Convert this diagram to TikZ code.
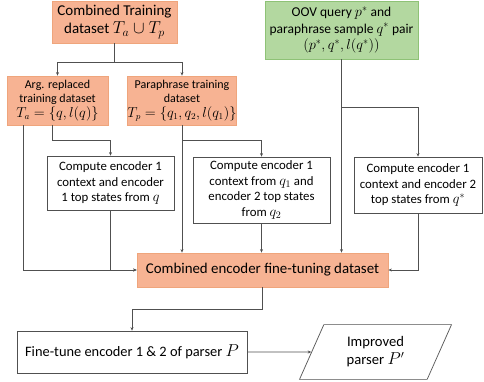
\documentclass[tikz,border=0pt]{standalone}
\usepackage{fontspec}
\setmainfont{Carlito}
\usetikzlibrary{arrows.meta,shapes.geometric}
\definecolor{orfill}{HTML}{F7B393}
\definecolor{ordraw}{HTML}{EFA57C}
\definecolor{grfill}{HTML}{B3D8A0}
\definecolor{grdraw}{HTML}{8EC276}
\definecolor{lncol}{HTML}{505050}
% formula set a little larger than the surrounding text
\newcommand{\bm}[2]{{\fontsize{#1}{10}\selectfont$#2$}}
\begin{document}
\begin{tikzpicture}[x=1pt,y=-1pt,
  orbox/.style={draw=ordraw,fill=orfill,line width=0.8pt,inner sep=0pt,align=center},
  grbox/.style={draw=grdraw,fill=grfill,line width=0.8pt,inner sep=0pt,align=center},
  whbox/.style={draw=lncol,fill=white,line width=0.7pt,inner sep=0pt,align=center},
  conn/.style={draw=lncol,line width=0.7pt},
  arr/.style={conn,-{Stealth[length=3.5pt,width=3pt]}}]
\useasboundingbox (0,0) rectangle (484,381);
% source datasets
\node[orbox,minimum width=125pt,minimum height=42pt,font=\fontsize{15}{17.5}\selectfont] (comb) at (114.5,22) {Combined Training\\dataset \bm{17}{T_a\cup T_p}};
\node[orbox,minimum width=101pt,minimum height=49pt,font=\fontsize{12}{14.5}\selectfont] (arg) at (57.5,100.5) {Arg. replaced\\training dataset\\\bm{13.5}{T_a=\{q,l(q)\}}};
\node[orbox,minimum width=106pt,minimum height=49pt,font=\fontsize{12}{14.5}\selectfont] (par) at (182,100.5) {Paraphrase training\\dataset\\\bm{13.5}{T_p=\{q_1,q_2,l(q_1)\}}};
\node[grbox,minimum width=153pt,minimum height=58pt,font=\fontsize{13.5}{16.5}\selectfont] (oov) at (341.5,30) {OOV query \bm{14.5}{p^{*}} and\\paraphrase sample \bm{14.5}{q^{*}} pair\\\bm{14.5}{\bigl(p^{*},q^{*},l(q^{*})\bigr)}};
% encoder state computations
\node[whbox,minimum width=127pt,minimum height=54pt,font=\fontsize{12.8}{15.5}\selectfont] (c1) at (110.5,183) {Compute encoder\ 1\\context and encoder\\1 top states from \bm{14.5}{q}};
\node[whbox,minimum width=137pt,minimum height=66pt,font=\fontsize{12.8}{15.5}\selectfont] (c2) at (261.5,190) {Compute encoder\ 1\\context from \bm{14.5}{q_1} and\\encoder\ 2 top states\\from \bm{14.5}{q_2}};
\node[whbox,minimum width=128pt,minimum height=56pt,font=\fontsize{12.8}{15.5}\selectfont] (c3) at (418,185) {Compute encoder\ 1\\context and encoder\ 2\\top states from \bm{14.5}{q^{*}}};
% fine-tuning
\node[orbox,minimum width=251pt,minimum height=34pt,font=\fontsize{14.9}{17}\selectfont] (ft) at (262.5,270) {Combined encoder fine-tuning dataset};
\node[whbox,minimum width=230pt,minimum height=42pt,font=\fontsize{14.4}{17}\selectfont] (tune) at (132,352) {Fine-tune encoder 1 \& 2 of parser \bm{16}{P}};
\node[draw=lncol,line width=0.7pt,trapezium,trapezium left angle=66,trapezium right angle=114,
  minimum width=152pt,minimum height=46pt,inner sep=0pt,align=center,
  font=\fontsize{14.6}{18}\selectfont] (imp) at (375.5,352) {Improved\\parser \bm{16}{P'}};
% connectors
\coordinate (j1) at (114.5,62);
\draw[conn] (comb.south) -- (j1);
\draw[arr] (j1) -| (arg.north);
\draw[arr] (j1) -| (par.north);
\draw[arr] (arg.south -| 23,0) |- (ft.west);
\draw[arr] (arg.south -| 52,0) |- (c1.north |- 0,140) -- (c1.north);
\draw[arr] (par.south) -- (ft.north -| par.south);
\draw[arr] (par.south |- 0,140) -| (c2.north);
\draw[arr] (c1.south) |- (ft.west);
\draw[arr] (c2.south) -- (ft.north -| c2.south);
\draw[arr] (oov.south) -- (ft.north -| oov.south);
\draw[arr] (oov.south |- 0,107) -| (c3.north);
\draw[arr] (c3.south) |- (ft.east);
\draw[arr] (ft.south) |- (tune.north |- 0,309) -- (tune.north);
\draw[arr] (tune.east) -- (imp.west);
\end{tikzpicture}
\end{document}
